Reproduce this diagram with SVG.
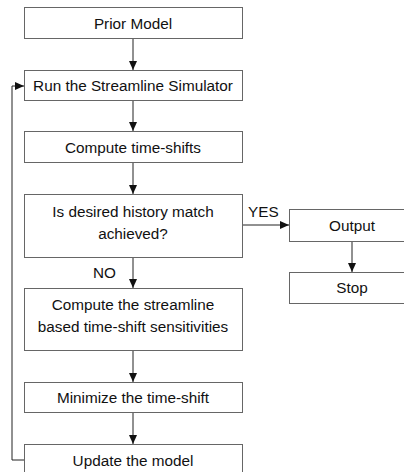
<svg xmlns="http://www.w3.org/2000/svg" width="404" height="472" viewBox="0 0 404 472">
<style>
.box{fill:#fff;stroke:#666;stroke-width:1}
.t{font-family:"Liberation Sans",Arial,sans-serif;font-size:15.3px;fill:#111;text-anchor:middle}
.lbl{font-family:"Liberation Sans",Arial,sans-serif;font-size:15.3px;fill:#111}
.c{fill:none;stroke:#222;stroke-width:1}
</style>
<defs>
<marker id="ah" markerWidth="10" markerHeight="8" refX="9" refY="4" orient="auto" markerUnits="userSpaceOnUse">
<path d="M0,0 L9,4 L0,8 Z" fill="#111"/>
</marker>
</defs>
<rect width="404" height="472" fill="#fff"/>
<g id="connectors">
<line class="c" x1="133" y1="38" x2="133" y2="70" marker-end="url(#ah)"/>
<line class="c" x1="133" y1="100" x2="133" y2="131" marker-end="url(#ah)"/>
<line class="c" x1="133" y1="163" x2="133" y2="194" marker-end="url(#ah)"/>
<line class="c" x1="133" y1="257" x2="133" y2="288" marker-end="url(#ah)"/>
<line class="c" x1="133" y1="350" x2="133" y2="382" marker-end="url(#ah)"/>
<line class="c" x1="133" y1="412" x2="133" y2="444" marker-end="url(#ah)"/>
<line class="c" x1="242" y1="225" x2="289" y2="225" marker-end="url(#ah)"/>
<line class="c" x1="352" y1="241" x2="352" y2="272" marker-end="url(#ah)"/>
<polyline class="c" points="24,460 12,460 12,86 24,86" marker-end="url(#ah)"/>
<text class="lbl" x="248" y="217">YES</text>
<text class="lbl" x="93" y="278">NO</text>
</g>
<g id="prior">
<rect class="box" x="24.5" y="7.5" width="218" height="31"/>
<text class="t" x="133" y="29">Prior Model</text>
</g>
<g id="run">
<rect class="box" x="24.5" y="70.5" width="218" height="30"/>
<text class="t" x="133" y="91">Run the Streamline Simulator</text>
</g>
<g id="compute">
<rect class="box" x="24.5" y="131.5" width="218" height="31"/>
<text class="t" x="133" y="153">Compute time-shifts</text>
</g>
<g id="decision">
<rect class="box" x="24.5" y="194.5" width="218" height="63"/>
<text class="t" x="133" y="217">Is desired history match</text>
<text class="t" x="133" y="239">achieved?</text>
</g>
<g id="sens">
<rect class="box" x="24.5" y="288.5" width="218" height="62"/>
<text class="t" x="133" y="310">Compute the streamline</text>
<text class="t" x="133" y="332">based time-shift sensitivities</text>
</g>
<g id="minimize">
<rect class="box" x="24.5" y="382.5" width="218" height="30"/>
<text class="t" x="133" y="403">Minimize the time-shift</text>
</g>
<g id="update">
<rect class="box" x="24.5" y="444.5" width="218" height="32"/>
<text class="t" x="133" y="466">Update the model</text>
</g>
<g id="output">
<rect class="box" x="289.5" y="209.5" width="126" height="32"/>
<text class="t" x="352" y="231">Output</text>
</g>
<g id="stop">
<rect class="box" x="289.5" y="272.5" width="126" height="31"/>
<text class="t" x="352" y="293">Stop</text>
</g>
</svg>
